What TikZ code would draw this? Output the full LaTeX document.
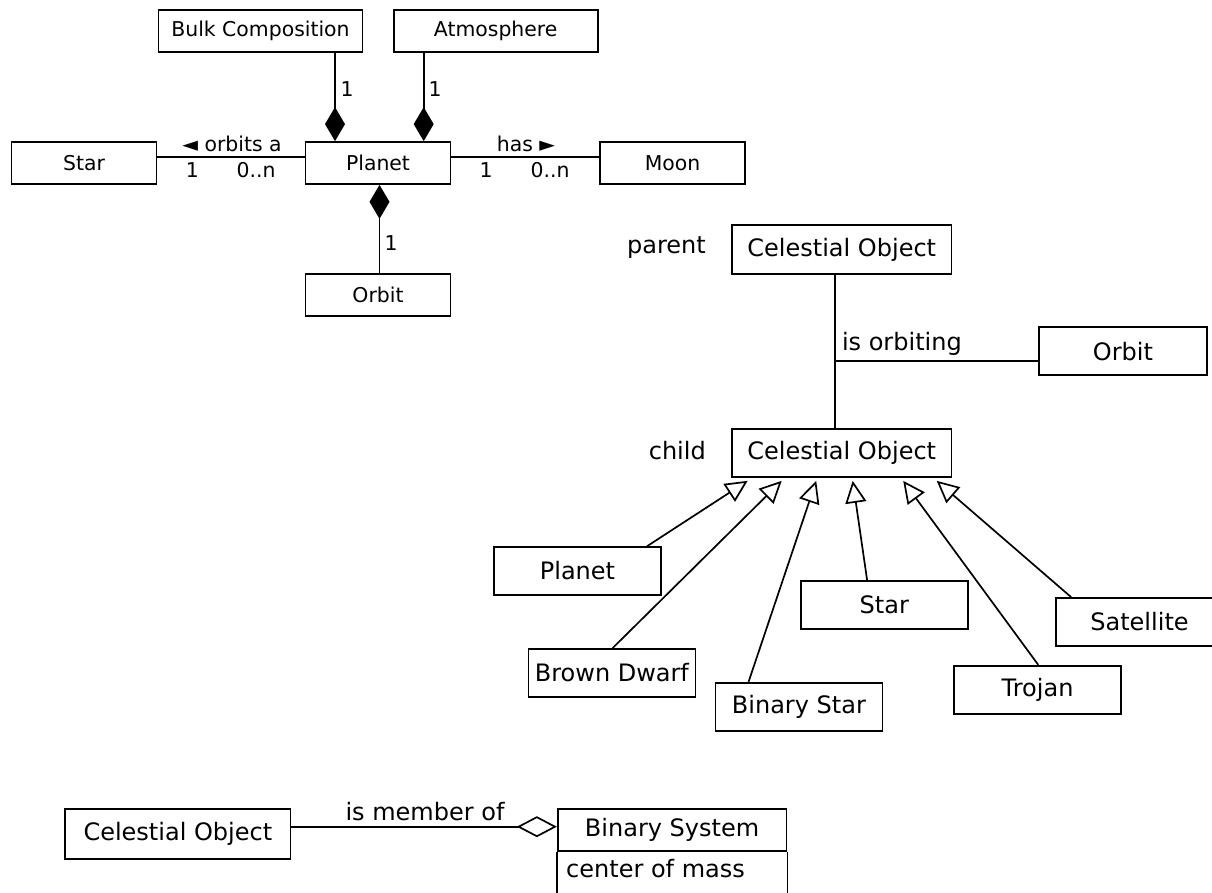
\documentclass[tikz,border=0pt]{standalone}
\usepackage{fontspec}
\setmainfont{DejaVu Sans}
\usetikzlibrary{arrows.meta,calc}

\tikzset{
  cls/.style={draw, line width=1.7pt, inner sep=0pt, fill=white},
  small/.style={font=\fontsize{20.4}{24}\selectfont},
  big/.style={font=\fontsize{24}{28}\selectfont},
  lbl/.style={inner sep=0pt},
  conn/.style={line width=1.7pt},
  comp/.style={conn, -{Diamond[length=34pt,width=20pt,fill=black]}},
  aggr/.style={conn, -{Diamond[open,length=40pt,width=21pt,fill=white]}},
  gen/.style={conn, -{Triangle[open,length=22pt,width=21pt,fill=white]}},
}

\begin{document}
\begin{tikzpicture}[x=1pt,y=-1pt]
\useasboundingbox (0,0) rectangle (1212,893);
\clip (0,0) rectangle (1212,893);

% ---------- planet composition ----------
\node[cls, small, minimum width=204pt, minimum height=42pt] (bulk)   at (260.5,31)  {Bulk Composition};
\node[cls, small, minimum width=204pt, minimum height=42pt] (atmos)  at (495.7,31)  {Atmosphere};
\node[cls, small, minimum width=145pt, minimum height=42pt] (star)   at (84,163)    {Star};
\node[cls, small, minimum width=145pt, minimum height=42pt] (planet) at (378,163)   {Planet};
\node[cls, small, minimum width=145pt, minimum height=42pt] (moon)   at (672.5,163) {Moon};
\node[cls, small, minimum width=145pt, minimum height=42pt] (orbitA) at (378,295)   {Orbit};

\coordinate (bx) at (335,0);
\coordinate (ax) at (423.7,0);
\coordinate (ox) at (379.5,0);
\coordinate (hy) at (0,157);

\draw[comp] (bulk.south -| bx) -- (planet.north -| bx);
\draw[comp] (atmos.south -| ax) -- (planet.north -| ax);
\draw[comp] (orbitA.north -| ox) -- (planet.south -| ox);
\draw[conn] (star.east |- hy) -- (planet.west |- hy);
\draw[conn] (planet.east |- hy) -- (moon.west |- hy);

\node[lbl, small] (m1) at (347,89)    {1};
\node[lbl, small] (m2) at (435,89)    {1};
\node[lbl, small] (m3) at (391,243)   {1};
\node[lbl, small] (orbitsA) at (232,144) {◄ orbits a};
\node[lbl, small] (m4) at (192.4,170) {1};
\node[lbl, small] (m5) at (256,170)   {0..n};
\node[lbl, small] (hasL) at (526,144) {has ►};
\node[lbl, small] (m6) at (486,170)   {1};
\node[lbl, small] (m7) at (550,170)   {0..n};

% ---------- orbiting association ----------
\node[cls, big, minimum width=219.5pt, minimum height=49pt] (parentco) at (841.8,249.5) {Celestial Object};
\node[cls, big, minimum width=219.5pt, minimum height=48pt] (childco)  at (841.8,453)   {Celestial Object};
\node[cls, big, minimum width=168pt, minimum height=48pt]   (orbitB)   at (1122.9,351.2) {Orbit};
\node[lbl, big, anchor=east] (parentL) at (706,248) {parent};
\node[lbl, big, anchor=east] (childL)  at (706,451)   {child};

\coordinate (vx) at (834.8,0);
\coordinate (ly) at (0,361);
\draw[conn] (parentco.south -| vx) -- (childco.north -| vx);
\draw[conn] (vx |- ly) -- (orbitB.west |- ly);
\node[lbl, big, anchor=west] (orbitingL) at (841.8,344) {is orbiting};

% ---------- subclasses ----------
\node[cls, big, minimum width=167pt, minimum height=48pt] (planetB)   at (577.5,571)    {Planet};
\node[cls, big, minimum width=167pt, minimum height=48pt] (brown)     at (611.9,673)    {Brown Dwarf};
\node[cls, big, minimum width=167pt, minimum height=48pt] (binstar)   at (798.9,706.7)  {Binary Star};
\node[cls, big, minimum width=167pt, minimum height=48pt] (starB)     at (884.3,605.2)  {Star};
\node[cls, big, minimum width=167pt, minimum height=48pt] (trojan)    at (1037.6,689.7) {Trojan};
\node[cls, big, minimum width=167pt, minimum height=48pt] (satellite) at (1139.5,622)   {Satellite};

\draw[gen] ($(planetB.north west)+(154,0)$)  -- ($(childco.south west)+(16.4,3)$);
\draw[gen] ($(brown.north west)+(85,0)$)     -- ($(childco.south west)+(50.5,3)$);
\draw[gen] ($(binstar.north west)+(34,0)$)   -- ($(childco.south west)+(85,3)$);
\draw[gen] ($(starB.north west)+(67.2,0)$)   -- ($(childco.south west)+(121.5,3)$);
\draw[gen] ($(trojan.north west)+(85,0)$)    -- ($(childco.south west)+(172,3)$);
\draw[gen] ($(satellite.north west)+(16,0)$) -- ($(childco.south west)+(205.5,3)$);

% ---------- binary system aggregation ----------
\node[cls, big, minimum width=225.4pt, minimum height=49.4pt] (coC) at (177.9,834) {Celestial Object};
\node[cls, big, minimum width=228.8pt, minimum height=41.4pt] (binsys) at (672.1,830) {Binary System};
\draw[conn] (binsys.south west) -- ++(0,60);
\draw[conn] (binsys.south east) -- ++(0,60);
\node[lbl, big, anchor=west] (com) at (566,869) {center of mass};

\coordinate (my) at (0,826.7);
\draw[aggr] (coC.east |- my) -- (binsys.west |- my);
\node[lbl, big] (memberL) at (425,811.7) {is member of};
\end{tikzpicture}
\end{document}
